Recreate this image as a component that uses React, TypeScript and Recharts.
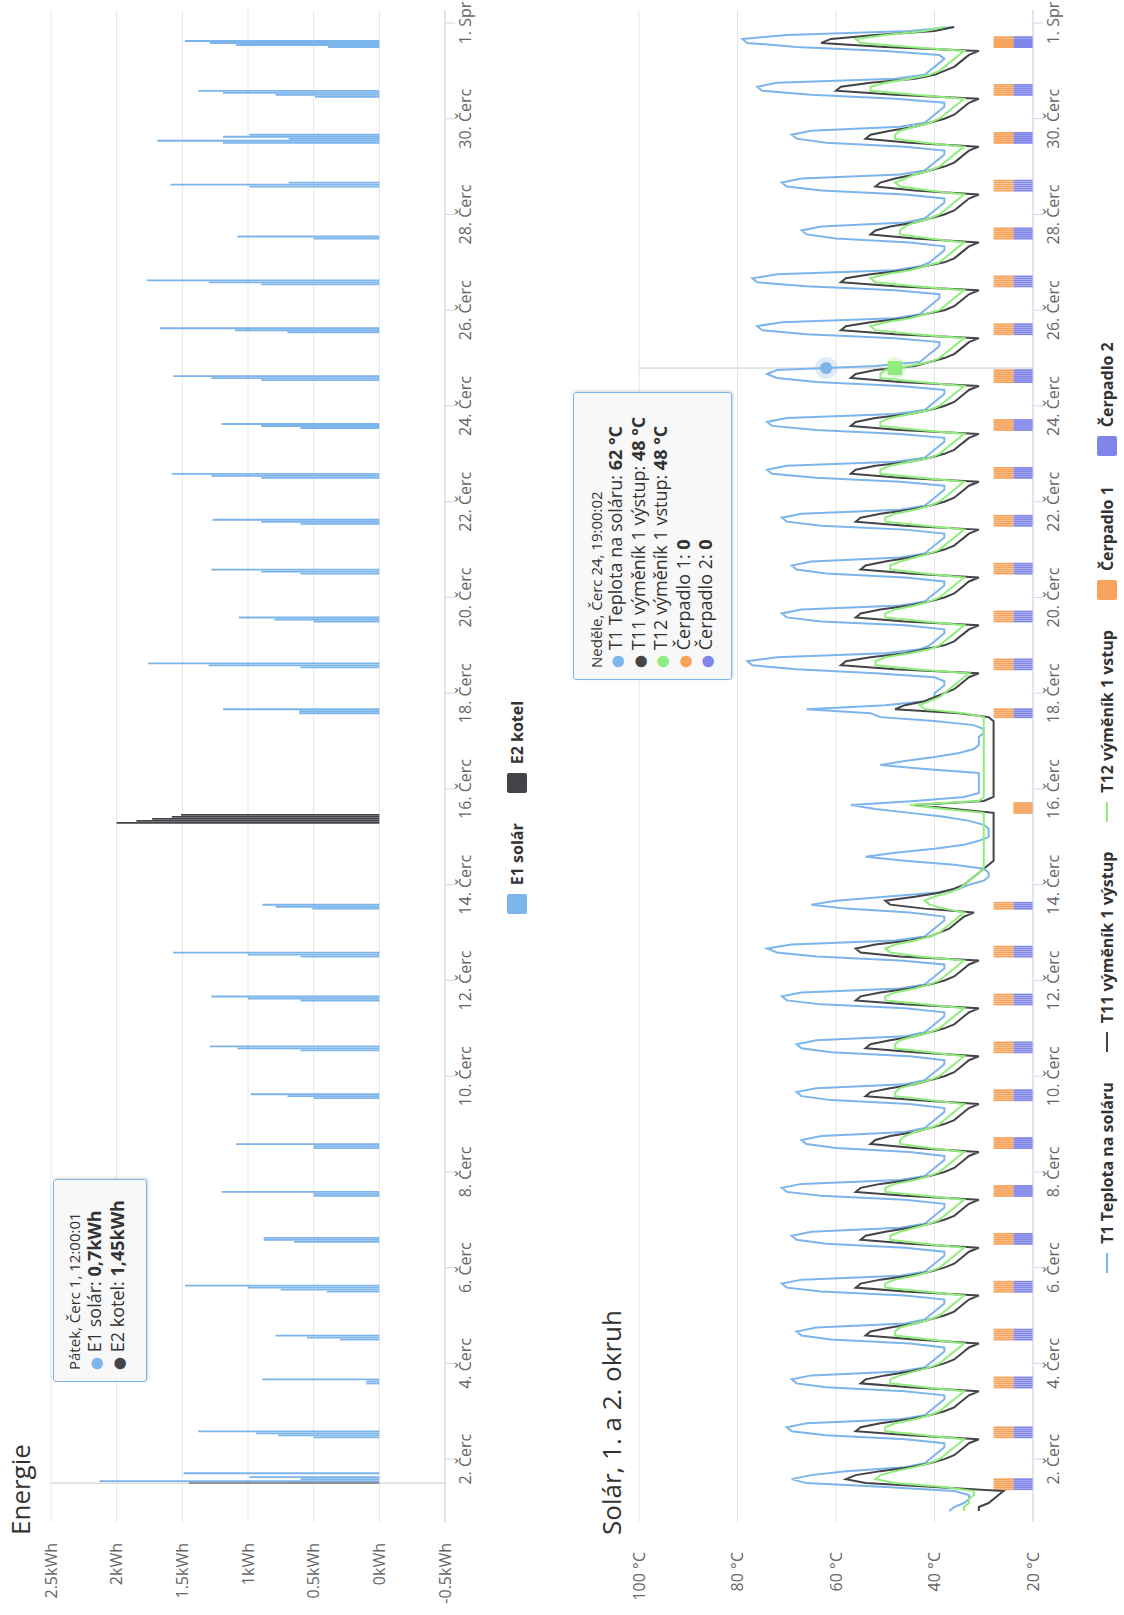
import React from "react";
import {
  ComposedChart,
  Bar,
  Line,
  XAxis,
  YAxis,
  CartesianGrid,
  ReferenceLine,
  ReferenceDot,
} from "recharts";

const FONT = '"Open Sans", "Noto Sans", "DejaVu Sans", sans-serif';

// čas = hodiny od 1. 7. 00:00
const X_DOMAIN = [-7.5, 750.5];
const dayTicks = [24, 72, 120, 168, 216, 264, 312, 360, 408, 456, 504, 552, 600, 648, 696, 744];
const dayTickLabels = [
  "2. Čerc", "4. Čerc", "6. Čerc", "8. Čerc", "10. Čerc", "12. Čerc", "14. Čerc", "16. Čerc",
  "18. Čerc", "20. Čerc", "22. Čerc", "24. Čerc", "26. Čerc", "28. Čerc", "30. Čerc", "1. Spr",
];

const energyTicks = [-0.5, 0, 0.5, 1, 1.5, 2, 2.5];
const energyTickLabels = ["-0.5kWh", "0kWh", "0.5kWh", "1kWh", "1.5kWh", "2kWh", "2.5kWh"];

// E1 solár
const e1Hours = [
  12, 13, 14, 15, 17,
  35, 36, 37, 38,
  62, 63, 64,
  84, 85, 86,
  108, 109, 110, 111,
  133, 134, 135,
  156, 157, 158,
  180, 181, 182,
  205, 206, 207,
  229, 230, 231,
  254, 255, 256,
  276, 277, 278,
  300, 301, 302,
  398, 399, 400,
  421, 422, 423,
  444, 445, 446,
  468, 469, 470,
  493, 494, 495,
  516, 517, 518,
  541, 542, 543,
  565, 566, 567,
  589, 590, 591,
  613, 614, 615,
  636, 637,
  662, 663, 664,
  684, 685, 686, 687, 688,
  707, 708, 709, 710,
  732, 733, 734, 735,
];
const e1Values = [
  0.7, 2.13, 0.6, 0.99, 1.49,
  0.5, 0.77, 0.94, 1.38,
  0.1, 0.1, 0.89,
  0.3, 0.55, 0.79,
  0.4, 0.75, 1.0, 1.48,
  0.65, 0.88, 0.88,
  0.5, 0.5, 1.2,
  0.5, 0.5, 1.09,
  0.5, 0.7, 0.98,
  0.6, 1.08, 1.29,
  0.6, 1.0, 1.28,
  0.6, 1.0, 1.57,
  0.51, 0.79, 0.89,
  0.61, 0.61, 1.19,
  0.6, 1.3, 1.76,
  0.5, 0.8, 1.07,
  0.6, 0.9, 1.28,
  0.6, 0.9, 1.27,
  0.9, 1.28, 1.58,
  0.6, 0.9, 1.2,
  0.9, 1.28, 1.57,
  0.7, 1.1, 1.67,
  0.9, 1.3, 1.77,
  0.5, 1.08,
  0.99, 1.59, 0.69,
  1.19, 1.69, 0.69, 1.19, 0.99,
  0.49, 0.79, 1.19, 1.38,
  0.39, 1.09, 1.29, 1.48,
];
// E2 kotel
const e2Hours = [12, 343, 344, 345, 346, 347];
const e2Values = [1.45, 2.0, 1.85, 1.73, 1.58, 1.51];

const tempTicks = [20, 40, 60, 80, 100];

// teploty po 2 h (0, 2, ... 22 h), jeden řádek = jeden den července
const tempFirst = { t1: 37, t11: 31, t12: 34 }; // 30. 6. 22:00
const t1ByDay = [
  [36, 34, 33, 33, 36, 50, 66, 69, 65, 58, 46, 42],
  [41, 40, 39, 38, 38, 46, 62, 69, 70, 66, 47, 42],
  [41, 40, 39, 38, 38, 46, 62, 68, 69, 65, 47, 42],
  [41, 40, 39, 38, 38, 45, 61, 67, 68, 64, 46, 42],
  [41, 40, 39, 38, 38, 46, 63, 70, 71, 67, 47, 42],
  [41, 40, 39, 38, 38, 46, 62, 68, 69, 65, 47, 42],
  [41, 40, 39, 38, 38, 46, 63, 70, 71, 67, 47, 42],
  [41, 40, 39, 38, 38, 45, 60, 66, 67, 63, 46, 42],
  [41, 40, 39, 38, 38, 45, 61, 67, 68, 64, 46, 42],
  [41, 40, 39, 38, 38, 45, 61, 67, 68, 64, 46, 42],
  [41, 40, 39, 38, 38, 46, 63, 70, 71, 67, 47, 42],
  [41, 40, 39, 38, 38, 47, 64, 72, 74, 69, 48, 42],
  [41, 40, 39, 38, 38, 45, 58, 65, 60, 50, 40, 35],
  [33, 30, 29, 29, 30, 36, 46, 54, 48, 40, 34, 31],
  [29, 29, 29, 30, 33, 38, 45, 52, 57, 44, 34, 31],
  [31, 31, 31, 31, 31, 42, 51, 46, 40, 35, 32, 31],
  [31, 31, 30, 30, 32, 40, 51, 53, 66, 50, 42, 40],
  [40, 39, 38, 38, 40, 52, 68, 77, 78, 72, 50, 43],
  [41, 40, 39, 38, 38, 46, 63, 70, 71, 67, 47, 42],
  [41, 40, 39, 38, 38, 46, 62, 68, 69, 65, 47, 42],
  [41, 40, 39, 38, 38, 46, 63, 70, 71, 67, 47, 42],
  [41, 40, 39, 38, 38, 47, 64, 73, 74, 70, 48, 42],
  [41, 40, 39, 38, 38, 47, 64, 73, 74, 70, 48, 42],
  [41, 40, 39, 38, 38, 47, 64, 72, 74, 72, 52, 43],
  [42, 41, 40, 39, 39, 48, 66, 75, 76, 71, 48, 43],
  [42, 41, 40, 39, 39, 48, 66, 76, 77, 72, 48, 43],
  [41, 40, 39, 38, 38, 45, 60, 66, 67, 63, 46, 42],
  [41, 40, 39, 38, 38, 46, 63, 70, 71, 67, 47, 42],
  [41, 40, 39, 38, 38, 46, 62, 68, 69, 65, 47, 42],
  [41, 40, 39, 38, 38, 48, 65, 75, 76, 72, 48, 42],
  [41, 40, 39, 38, 39, 50, 68, 78, 79, 70, 45, 36],
];
const t11ByDay = [
  [31, 29, 28, 27, 26, 40, 54, 58, 56, 51, 45, 41],
  [38, 36, 35, 34, 33, 31, 45, 56, 55, 51, 45, 41],
  [38, 36, 35, 34, 33, 31, 45, 55, 54, 50, 45, 41],
  [38, 36, 35, 34, 33, 31, 44, 54, 53, 49, 44, 41],
  [38, 36, 35, 34, 33, 31, 46, 56, 55, 51, 45, 41],
  [38, 36, 35, 34, 33, 31, 45, 55, 54, 50, 45, 41],
  [38, 36, 35, 34, 33, 31, 46, 56, 55, 51, 45, 41],
  [38, 36, 35, 34, 33, 31, 44, 53, 52, 49, 44, 41],
  [38, 36, 35, 34, 33, 31, 44, 54, 53, 49, 44, 41],
  [38, 36, 35, 34, 33, 31, 44, 54, 53, 49, 44, 41],
  [38, 36, 35, 34, 33, 31, 46, 56, 55, 51, 45, 41],
  [38, 36, 35, 34, 33, 31, 47, 55, 56, 52, 45, 41],
  [39, 37, 36, 35, 34, 32, 42, 49, 50, 44, 39, 36],
  [34, 33, 32, 31, 30, 29, 28, 28, 28, 28, 28, 28],
  [28, 28, 28, 28, 28, 28, 28, 36, 44, 30, 28, 28],
  [28, 28, 28, 28, 28, 28, 28, 28, 28, 28, 28, 28],
  [28, 28, 28, 28, 28, 28, 29, 35, 48, 46, 42, 40],
  [38, 36, 35, 34, 33, 31, 48, 59, 58, 53, 46, 42],
  [38, 36, 35, 34, 33, 31, 46, 56, 55, 51, 45, 41],
  [38, 36, 35, 34, 33, 31, 45, 55, 54, 50, 45, 41],
  [38, 36, 35, 34, 33, 31, 46, 56, 55, 51, 45, 41],
  [38, 36, 35, 34, 33, 31, 47, 57, 56, 52, 45, 41],
  [38, 36, 35, 34, 33, 31, 47, 57, 56, 52, 45, 41],
  [38, 36, 35, 34, 33, 31, 47, 57, 56, 52, 44, 41],
  [38, 36, 35, 34, 33, 31, 48, 59, 58, 53, 46, 42],
  [38, 36, 35, 34, 33, 31, 48, 59, 58, 53, 46, 42],
  [38, 36, 35, 34, 33, 31, 44, 53, 52, 49, 44, 41],
  [38, 36, 35, 34, 33, 31, 44, 52, 51, 48, 44, 41],
  [38, 36, 35, 34, 33, 31, 45, 54, 53, 49, 44, 41],
  [38, 36, 35, 34, 33, 31, 48, 60, 59, 53, 44, 40],
  [38, 36, 35, 34, 33, 31, 50, 63, 61, 52, 40, 36],
];
const t12ByDay = [
  [34, 33, 33, 32, 32, 38, 48, 52, 51, 48, 44, 41],
  [39, 38, 37, 36, 35, 34, 42, 50, 50, 48, 44, 41],
  [39, 38, 37, 36, 35, 34, 42, 49, 49, 47, 44, 41],
  [39, 38, 37, 36, 35, 34, 41, 48, 48, 47, 44, 41],
  [39, 38, 37, 36, 35, 34, 42, 50, 50, 48, 44, 41],
  [39, 38, 37, 36, 35, 34, 42, 49, 49, 47, 44, 41],
  [39, 38, 37, 36, 35, 34, 42, 50, 50, 48, 44, 41],
  [39, 38, 37, 36, 35, 34, 41, 47, 47, 46, 44, 41],
  [39, 38, 37, 36, 35, 34, 41, 48, 48, 47, 44, 41],
  [39, 38, 37, 36, 35, 34, 41, 48, 48, 47, 44, 41],
  [39, 38, 37, 36, 35, 34, 42, 50, 50, 48, 44, 41],
  [39, 38, 37, 36, 35, 34, 43, 49, 50, 48, 44, 41],
  [39, 38, 37, 36, 35, 34, 38, 41, 42, 40, 37, 35],
  [34, 33, 32, 31, 30, 30, 30, 30, 30, 30, 30, 30],
  [30, 30, 30, 30, 30, 30, 30, 38, 45, 31, 30, 30],
  [30, 30, 30, 30, 30, 30, 30, 30, 30, 30, 30, 30],
  [30, 30, 30, 30, 30, 30, 30, 34, 42, 43, 41, 39],
  [38, 37, 36, 35, 34, 33, 44, 52, 52, 50, 45, 41],
  [39, 38, 37, 36, 35, 34, 42, 50, 50, 48, 44, 41],
  [39, 38, 37, 36, 35, 34, 42, 49, 49, 47, 44, 41],
  [39, 38, 37, 36, 35, 34, 42, 50, 50, 48, 44, 41],
  [39, 38, 37, 36, 35, 34, 43, 51, 51, 49, 45, 41],
  [39, 38, 37, 36, 35, 34, 43, 51, 51, 49, 45, 41],
  [39, 38, 37, 36, 35, 34, 43, 51, 51, 50, 45, 41],
  [39, 38, 37, 36, 35, 34, 44, 52, 53, 50, 45, 42],
  [39, 38, 37, 36, 35, 34, 44, 52, 53, 50, 45, 42],
  [39, 38, 37, 36, 35, 34, 41, 47, 47, 46, 44, 41],
  [39, 38, 37, 36, 35, 34, 41, 47, 48, 46, 44, 41],
  [39, 38, 37, 36, 35, 34, 42, 48, 48, 47, 44, 41],
  [39, 38, 37, 36, 35, 34, 44, 53, 53, 50, 45, 41],
  [39, 38, 37, 36, 35, 34, 45, 55, 56, 50, 42, 38],
];

// čerpadla: den, začátek a konec chodu (h), které čerpadlo běží
const pumpDays = [1, 2, 3, 4, 5, 6, 7, 8, 9, 10, 11, 12, 13, 15, 17, 18, 19, 20, 21, 22, 23, 24, 25, 26, 27, 28, 29, 30, 31];
const pumpFrom = [9, 11, 12, 12, 12, 12, 12, 12, 12, 12, 12, 12, 12, 12, 12, 12, 12, 12, 12, 12, 12, 12, 12, 12, 12, 12, 12, 12, 12];
const pumpTo = [15, 17, 18, 18, 18, 18, 18, 18, 18, 18, 18, 18, 16, 18, 17, 18, 18, 18, 18, 18, 18, 19, 18, 18, 18, 18, 18, 18, 18];
const pump1On = [1, 1, 1, 1, 1, 1, 1, 1, 1, 1, 1, 1, 1, 1, 1, 1, 1, 1, 1, 1, 1, 1, 1, 1, 1, 1, 1, 1, 1];
const pump2On = [1, 1, 1, 1, 1, 1, 1, 1, 1, 1, 1, 1, 1, 0, 1, 1, 1, 1, 1, 1, 1, 1, 1, 1, 1, 1, 1, 1, 1];

// stav v okamžiku tooltipů
const energyHover = { t: 12, label: "Pátek, Čerc 1, 12:00:01", e1: "0,7kWh", e2: "1,45kWh" };
const solarHover = { t: 571, label: "Neděle, Čerc 24, 19:00:02", t1: 62, t11: 48, t12: 48, p1: 0, p2: 0 };

const COLORS = {
  e1: "#7cb5ec",
  e2: "#434348",
  t1: "#7cb5ec",
  t11: "#434348",
  t12: "#90ed7d",
  p1: "#f7a35c",
  p2: "#8085e9",
};

type Row = { t: number; [k: string]: number | null };

function buildEnergyRows(): Row[] {
  const map = new Map<number, Row>();
  const get = (t: number) => {
    if (!map.has(t)) map.set(t, { t });
    return map.get(t)!;
  };
  e1Hours.forEach((t, i) => (get(t).e1 = e1Values[i]));
  e2Hours.forEach((t, i) => (get(t).e2 = e2Values[i]));
  return [...map.values()].sort((a, b) => a.t - b.t);
}

function buildSolarRows(): Row[] {
  const map = new Map<number, Row>();
  const get = (t: number) => {
    if (!map.has(t)) map.set(t, { t });
    return map.get(t)!;
  };
  Object.assign(get(-2), tempFirst);
  t1ByDay.forEach((vals, d) =>
    vals.forEach((v, i) => {
      const r = get(d * 24 + i * 2);
      r.t1 = v;
      r.t11 = t11ByDay[d][i];
      r.t12 = t12ByDay[d][i];
    })
  );
  pumpDays.forEach((day, i) => {
    for (let h = pumpFrom[i]; h < pumpTo[i]; h++) {
      const r = get((day - 1) * 24 + h);
      r.p1 = pump1On[i];
      r.p2 = pump2On[i];
    }
  });
  return [...map.values()].sort((a, b) => a.t - b.t);
}

const energyRows = buildEnergyRows();
const solarRows = buildSolarRows();

const dayLabel = (v: number) => dayTickLabels[dayTicks.indexOf(v)] ?? "";
const axisTick = { fontSize: 16, fill: "#666666", fontFamily: FONT };

const Title = ({ text, top }: { text: string; top: number }) => (
  <div
    style={{
      position: "absolute",
      left: 80,
      top,
      fontSize: 26,
      lineHeight: "26px",
      color: "#333333",
      whiteSpace: "nowrap",
    }}
  >
    {text}
  </div>
);

type TipRow = { color: string; label: string; value: string };
const TipBox = ({
  left,
  top,
  width,
  height,
  header,
  rows,
  padTop,
  rowHeight,
}: {
  left: number;
  top: number;
  width: number;
  height: number;
  header: string;
  rows: TipRow[];
  padTop: number;
  rowHeight: number;
}) => (
  <div
    style={{
      position: "absolute",
      left,
      top,
      width,
      height,
      boxSizing: "border-box",
      background: "rgba(247,247,247,0.88)",
      border: "1px solid #7cb5ec",
      borderRadius: 3,
      boxShadow: "1px 1px 3px rgba(0,0,0,0.18)",
      padding: `${padTop}px 0 0 11px`,
      color: "#333333",
      whiteSpace: "nowrap",
    }}
  >
    <div style={{ fontSize: 15, lineHeight: "18px" }}>{header}</div>
    {rows.map((r) => (
      <div key={r.label} style={{ fontSize: 18, lineHeight: `${rowHeight}px` }}>
        <span style={{ color: r.color, fontSize: 15 }}>●</span> {r.label}: <b>{r.value}</b>
      </div>
    ))}
  </div>
);

const LegendItem = ({ color, label, kind }: { color: string; label: string; kind: "line" | "box" }) => (
  <div style={{ display: "flex", alignItems: "center", marginRight: 30 }}>
    {kind === "box" ? (
      <div style={{ width: 20, height: 20, background: color, borderRadius: 2, marginRight: 9 }} />
    ) : (
      <div style={{ width: 20, height: 2, background: color, marginRight: 9 }} />
    )}
    <span style={{ fontSize: 16, fontWeight: 700, color: "#333333" }}>{label}</span>
  </div>
);

const Halo = (props: any) => {
  const { cx, cy, fill, square } = props;
  return (
    <g>
      <circle cx={cx} cy={cy} r={11} fill={fill} fillOpacity={0.25} />
      {square ? (
        <rect x={cx - 7} y={cy - 7} width={14} height={14} fill={fill} />
      ) : (
        <circle cx={cx} cy={cy} r={6} fill={fill} />
      )}
    </g>
  );
};

const EnergyChart = () => (
  <div style={{ position: "absolute", left: 0, top: 0 }}>
    <ComposedChart
      width={1615}
      height={540}
      data={energyRows}
      margin={{ top: 51, right: 10, bottom: 65, left: 0 }}
      barGap={0}
    >
      <CartesianGrid stroke="#e6e6e6" vertical={false} />
      <XAxis
        dataKey="t"
        type="number"
        domain={X_DOMAIN}
        ticks={dayTicks}
        tickFormatter={dayLabel}
        allowDataOverflow
        stroke="#ccd6eb"
        tickSize={10}
        tickMargin={5}
        height={30}
        tick={axisTick}
        interval={0}
      />
      <XAxis xAxisId={1} dataKey="t" type="number" domain={X_DOMAIN} allowDataOverflow hide />
      <YAxis
        domain={[-0.5, 2.5]}
        ticks={energyTicks}
        tickFormatter={(v: number) => energyTickLabels[energyTicks.indexOf(v)]}
        width={93}
        axisLine={false}
        tickLine={false}
        tickSize={0}
        tickMargin={21}
        tick={axisTick}
        interval={0}
      />
      <ReferenceLine x={energyHover.t} stroke="#cccccc" strokeWidth={1} />
      <Bar dataKey="e1" fill={COLORS.e1} barSize={2} isAnimationActive={false} />
      <Bar xAxisId={1} dataKey="e2" fill={COLORS.e2} barSize={2} isAnimationActive={false} />
    </ComposedChart>
    <div
      style={{
        position: "absolute",
        left: 0,
        top: 506,
        width: 1615,
        display: "flex",
        justifyContent: "center",
        paddingLeft: 30,
        boxSizing: "border-box",
      }}
    >
      <LegendItem color={COLORS.e1} label="E1 solár" kind="box" />
      <LegendItem color={COLORS.e2} label="E2 kotel" kind="box" />
    </div>
  </div>
);

const SolarChart = () => (
  <div style={{ position: "absolute", left: 0, top: 588 }}>
    <ComposedChart
      width={1615}
      height={536}
      data={solarRows}
      margin={{ top: 51, right: 10, bottom: 61, left: 0 }}
      barGap={0}
    >
      <CartesianGrid stroke="#e6e6e6" vertical={false} />
      <XAxis
        dataKey="t"
        type="number"
        domain={X_DOMAIN}
        ticks={dayTicks}
        tickFormatter={dayLabel}
        allowDataOverflow
        stroke="#ccd6eb"
        tickSize={10}
        tickMargin={5}
        height={30}
        tick={axisTick}
        interval={0}
      />
      <YAxis
        domain={[20, 100]}
        ticks={tempTicks}
        tickFormatter={(v: number) => `${v} °C`}
        width={93}
        axisLine={false}
        tickLine={false}
        tickSize={0}
        tickMargin={30}
        tick={axisTick}
        interval={0}
      />
      <YAxis yAxisId="p" domain={[0, 20]} hide />
      <Bar yAxisId="p" dataKey="p2" stackId="p" fill={COLORS.p2} barSize={2} isAnimationActive={false} />
      <Bar yAxisId="p" dataKey="p1" stackId="p" fill={COLORS.p1} barSize={2} isAnimationActive={false} />
      <ReferenceLine x={solarHover.t} stroke="#cccccc" strokeWidth={1} />
      <Line dataKey="t1" stroke={COLORS.t1} strokeWidth={2} dot={false} connectNulls isAnimationActive={false} />
      <Line dataKey="t11" stroke={COLORS.t11} strokeWidth={2} dot={false} connectNulls isAnimationActive={false} />
      <Line dataKey="t12" stroke={COLORS.t12} strokeWidth={2} dot={false} connectNulls isAnimationActive={false} />
      <ReferenceDot x={solarHover.t} y={solarHover.t1} fill={COLORS.t1} shape={(p: any) => <Halo {...p} />} />
      <ReferenceDot x={solarHover.t} y={solarHover.t12} fill={COLORS.t12} shape={(p: any) => <Halo {...p} square />} />
    </ComposedChart>
    <div
      style={{
        position: "absolute",
        left: 0,
        top: 508,
        width: 1615,
        display: "flex",
        justifyContent: "center",
        paddingLeft: 30,
        boxSizing: "border-box",
      }}
    >
      <LegendItem color={COLORS.t1} label="T1 Teplota na soláru" kind="line" />
      <LegendItem color={COLORS.t11} label="T11 výměník 1 výstup" kind="line" />
      <LegendItem color={COLORS.t12} label="T12 výměník 1 vstup" kind="line" />
      <LegendItem color={COLORS.p1} label="Čerpadlo 1" kind="box" />
      <LegendItem color={COLORS.p2} label="Čerpadlo 2" kind="box" />
    </div>
  </div>
);

export default function App() {
  return (
    <div
      style={{
        position: "absolute",
        left: 0,
        top: 0,
        width: 1124,
        height: 1615,
        overflow: "hidden",
        background: "#ffffff",
        fontFamily: FONT,
      }}
    >
      <div
        style={{
          position: "absolute",
          left: 0,
          top: 0,
          width: 1615,
          height: 1124,
          transformOrigin: "0 0",
          transform: "translateY(1615px) rotate(-90deg)",
        }}
      >
        <EnergyChart />
        <SolarChart />
        <Title text="Energie" top={7} />
        <Title text="Solár, 1. a 2. okruh" top={598} />
        <TipBox
          left={233}
          top={53}
          width={203}
          height={94}
          padTop={11}
          rowHeight={22}
          header={energyHover.label}
          rows={[
            { color: COLORS.e1, label: "E1 solár", value: energyHover.e1 },
            { color: COLORS.e2, label: "E2 kotel", value: energyHover.e2 },
          ]}
        />
        <TipBox
          left={935}
          top={573}
          width={288}
          height={159}
          padTop={13}
          rowHeight={21.5}
          header={solarHover.label}
          rows={[
            { color: COLORS.t1, label: "T1 Teplota na soláru", value: `${solarHover.t1} °C` },
            { color: COLORS.t11, label: "T11 výměník 1 výstup", value: `${solarHover.t11} °C` },
            { color: COLORS.t12, label: "T12 výměník 1 vstup", value: `${solarHover.t12} °C` },
            { color: COLORS.p1, label: "Čerpadlo 1", value: `${solarHover.p1}` },
            { color: COLORS.p2, label: "Čerpadlo 2", value: `${solarHover.p2}` },
          ]}
        />
      </div>
    </div>
  );
}
